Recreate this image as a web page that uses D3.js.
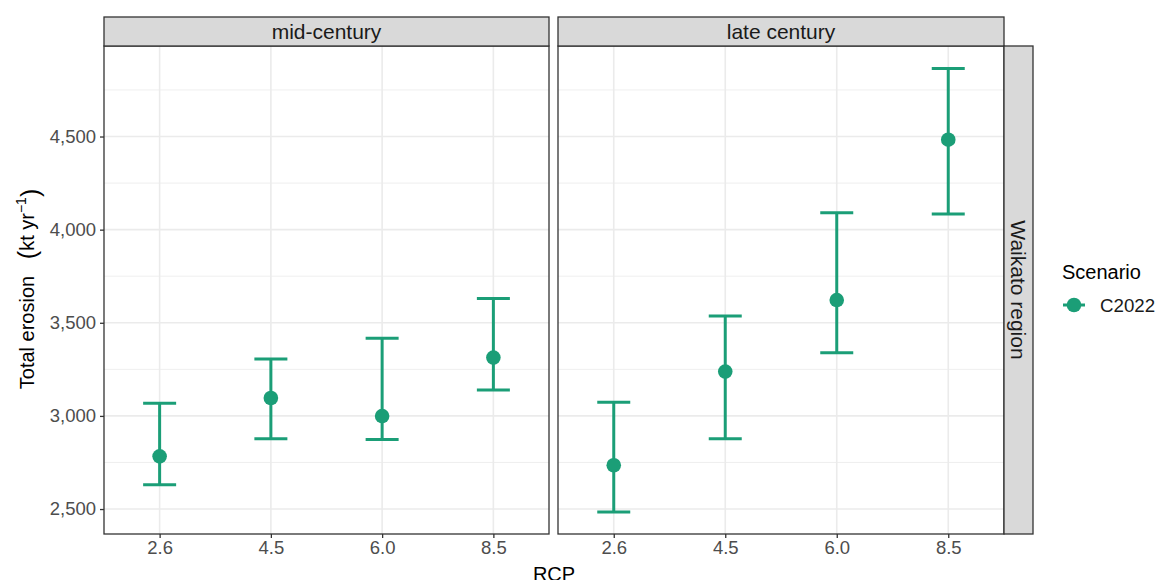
<!DOCTYPE html>
<html>
<head>
<meta charset="utf-8">
<script src="https://cdn.jsdelivr.net/npm/d3@7"></script>
<style>
  body { margin: 0; background: #fff; }
  svg { font-family: "Liberation Sans", Arial, sans-serif; }
</style>
</head>
<body>
<div id="chart"></div>
<script>
// data
const periods = ["mid-century", "late century"];
const rcps = ["2.6", "4.5", "6.0", "8.5"];
const midMean  = [2783, 3096, 2999, 3313];
const midLow   = [2630, 2878, 2874, 3139];
const midHigh  = [3068, 3305, 3417, 3630];
const lateMean = [2735, 3238, 3622, 4483];
const lateLow  = [2484, 2878, 3339, 4084];
const lateHigh = [3073, 3537, 4091, 4865];
const yTicks = [2500, 3000, 3500, 4000, 4500];
const yMinor = [2750, 3250, 3750, 4250, 4750];
const region = "Waikato region";
const scenario = "C2022";

const green = "#1B9E77";
const svgWidth = 1161, svgHeight = 580;
const panelTop = 46, panelBottom = 534;
const panels = [{x0: 104, x1: 549}, {x0: 558, x1: 1004}];
const stripH = 29;
const tickFont = 18.5;
const stripFont = 21;

const rows = [
    rcps.map((r, i) => ({rcp: r, mean: midMean[i], lo: midLow[i], hi: midHigh[i]})),
    rcps.map((r, i) => ({rcp: r, mean: lateMean[i], lo: lateLow[i], hi: lateHigh[i]}))
];

const svg = d3.select("#chart").append("svg")
    .attr("width", svgWidth)
    .attr("height", svgHeight);

const yScale = d3.scaleLinear()
    .domain([2366, 4986])
    .range([panelBottom, panelTop]);

panels.forEach((p, k) => {
    const xScale = d3.scalePoint()
        .domain(rcps)
        .range([p.x0, p.x1])
        .padding(0.5);

    const g = svg.append("g");

    // background + grid
    g.append("rect")
        .attr("x", p.x0).attr("y", panelTop)
        .attr("width", p.x1 - p.x0).attr("height", panelBottom - panelTop)
        .attr("fill", "#fff");

    g.selectAll(".minor").data(yMinor).enter().append("line")
        .attr("x1", p.x0).attr("x2", p.x1)
        .attr("y1", d => yScale(d)).attr("y2", d => yScale(d))
        .attr("stroke", "#EBEBEB").attr("stroke-width", 0.8);

    g.selectAll(".major").data(yTicks).enter().append("line")
        .attr("x1", p.x0).attr("x2", p.x1)
        .attr("y1", d => yScale(d)).attr("y2", d => yScale(d))
        .attr("stroke", "#EBEBEB").attr("stroke-width", 1.6);

    g.selectAll(".vmajor").data(rcps).enter().append("line")
        .attr("x1", d => xScale(d)).attr("x2", d => xScale(d))
        .attr("y1", panelTop).attr("y2", panelBottom)
        .attr("stroke", "#EBEBEB").attr("stroke-width", 1.6);

    // error bars
    const capW = 33;
    const bars = g.selectAll(".bar").data(rows[k]).enter().append("g");
    bars.append("line")
        .attr("x1", d => xScale(d.rcp)).attr("x2", d => xScale(d.rcp))
        .attr("y1", d => yScale(d.lo)).attr("y2", d => yScale(d.hi))
        .attr("stroke", green).attr("stroke-width", 3);
    bars.append("line")
        .attr("x1", d => xScale(d.rcp) - capW / 2).attr("x2", d => xScale(d.rcp) + capW / 2)
        .attr("y1", d => yScale(d.lo)).attr("y2", d => yScale(d.lo))
        .attr("stroke", green).attr("stroke-width", 3);
    bars.append("line")
        .attr("x1", d => xScale(d.rcp) - capW / 2).attr("x2", d => xScale(d.rcp) + capW / 2)
        .attr("y1", d => yScale(d.hi)).attr("y2", d => yScale(d.hi))
        .attr("stroke", green).attr("stroke-width", 3);
    bars.append("circle")
        .attr("cx", d => xScale(d.rcp)).attr("cy", d => yScale(d.mean))
        .attr("r", 7.3)
        .attr("fill", green);

    // border
    g.append("rect")
        .attr("x", p.x0).attr("y", panelTop)
        .attr("width", p.x1 - p.x0).attr("height", panelBottom - panelTop)
        .attr("fill", "none").attr("stroke", "#333333").attr("stroke-width", 1.3);

    // strip on top
    g.append("rect")
        .attr("x", p.x0).attr("y", panelTop - stripH)
        .attr("width", p.x1 - p.x0).attr("height", stripH)
        .attr("fill", "#D9D9D9").attr("stroke", "#333333").attr("stroke-width", 1.3);
    g.append("text")
        .attr("x", (p.x0 + p.x1) / 2).attr("y", panelTop - stripH / 2)
        .attr("dy", "0.35em")
        .attr("text-anchor", "middle")
        .attr("font-size", stripFont)
        .attr("fill", "#1A1A1A")
        .text(periods[k]);

    // x axis
    const xAxis = d3.axisBottom(xScale).tickSize(4).tickPadding(3);
    const xg = g.append("g")
        .attr("transform", `translate(0, ${panelBottom})`)
        .call(xAxis);
    xg.select(".domain").remove();
    xg.selectAll(".tick line").attr("stroke", "#333333").attr("stroke-width", 1.3);
    xg.selectAll(".tick text")
        .attr("font-size", tickFont)
        .attr("font-family", "Liberation Sans, Arial, sans-serif")
        .attr("fill", "#4D4D4D");

    if (k === 0) {
        const yAxis = d3.axisLeft(yScale)
            .tickValues(yTicks)
            .tickFormat(d3.format(","))
            .tickSize(4).tickPadding(4);
        const yg = g.append("g")
            .attr("transform", `translate(${p.x0}, 0)`)
            .call(yAxis);
        yg.select(".domain").remove();
        yg.selectAll(".tick line").attr("stroke", "#333333").attr("stroke-width", 1.3);
        yg.selectAll(".tick text")
            .attr("font-size", tickFont)
            .attr("font-family", "Liberation Sans, Arial, sans-serif")
            .attr("fill", "#4D4D4D");
    }
});

// right strip
const lastP = panels[panels.length - 1];
svg.append("rect")
    .attr("x", lastP.x1).attr("y", panelTop)
    .attr("width", stripH).attr("height", panelBottom - panelTop)
    .attr("fill", "#D9D9D9").attr("stroke", "#333333").attr("stroke-width", 1.3);
svg.append("text")
    .attr("transform", `translate(${lastP.x1 + stripH / 2}, ${(panelTop + panelBottom) / 2}) rotate(90)`)
    .attr("text-anchor", "middle")
    .attr("dy", "0.35em")
    .attr("font-size", stripFont)
    .attr("fill", "#1A1A1A")
    .text(region);

// axis titles
svg.append("text")
    .attr("x", (panels[0].x0 + lastP.x1) / 2).attr("y", 581)
    .attr("text-anchor", "middle")
    .attr("font-size", 20)
    .attr("fill", "#000")
    .text("RCP");

const yTitle = svg.append("text")
    .attr("transform", `translate(34, ${(panelTop + panelBottom) / 2 - 1}) rotate(-90)`)
    .attr("text-anchor", "middle")
    .attr("font-size", 20)
    .attr("fill", "#000")
    .style("white-space", "pre");
yTitle.append("tspan").text("Total erosion   ");
yTitle.append("tspan").attr("font-size", 25).attr("dy", "0.08em").text("(");
yTitle.append("tspan").attr("dy", "-0.08em").text("kt yr");
yTitle.append("tspan").attr("dy", "-0.6em").attr("font-size", 14).text("\u22121");
yTitle.append("tspan").attr("dy", "0.5em").attr("font-size", 25).text(")");

// legend
svg.append("text")
    .attr("x", 1062).attr("y", 279)
    .attr("font-size", 20)
    .attr("fill", "#000")
    .text("Scenario");
svg.append("line")
    .attr("x1", 1063).attr("x2", 1085)
    .attr("y1", 305).attr("y2", 305)
    .attr("stroke", green).attr("stroke-width", 3);
svg.append("circle")
    .attr("cx", 1074).attr("cy", 305).attr("r", 7.3)
    .attr("fill", green);
svg.append("text")
    .attr("x", 1100).attr("y", 312)
    .attr("font-size", 18.7)
    .attr("fill", "#1A1A1A")
    .text(scenario);
</script>
</body>
</html>
